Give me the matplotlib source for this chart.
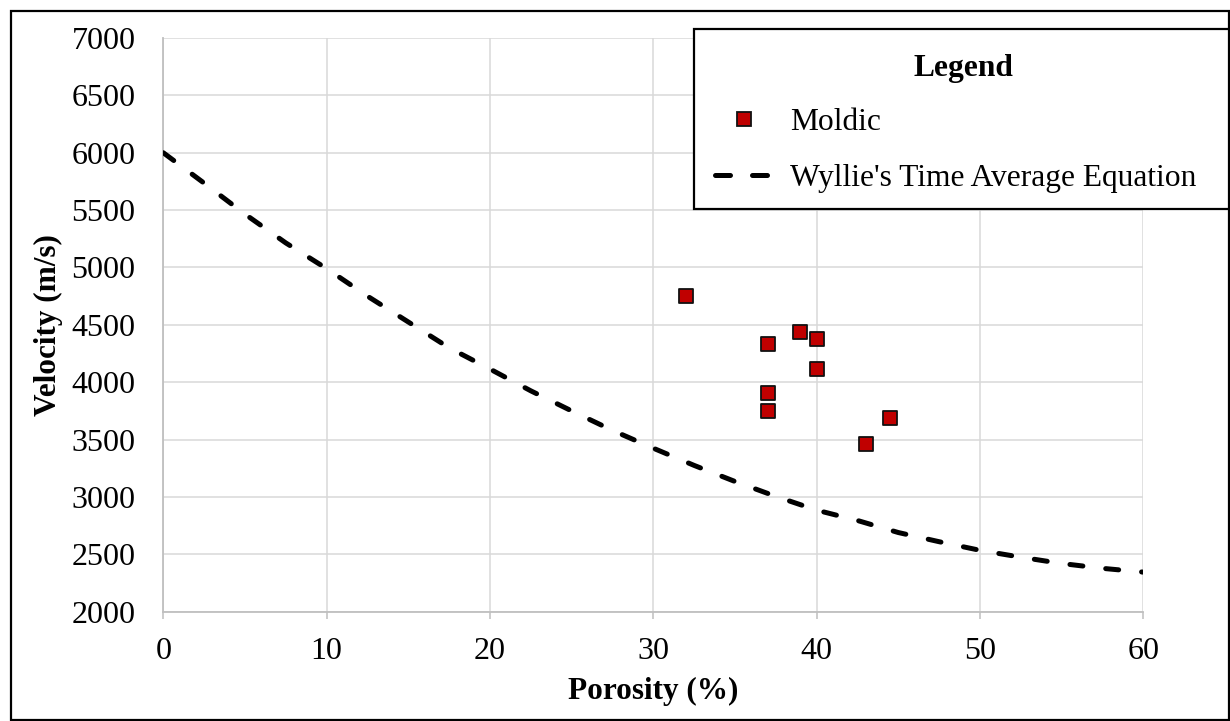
import matplotlib
matplotlib.use("Agg")
import matplotlib.pyplot as plt
from matplotlib.patches import Rectangle
from matplotlib.lines import Line2D

# ---- data ----
moldic_porosity = [32, 37, 39, 40, 40, 37, 37, 44.5, 43]
moldic_velocity = [4755, 4335, 4440, 4375, 4112, 3905, 3752, 3692, 3462]

wyllie_porosity = [0, 2.5, 5, 7.5, 10, 12.5, 15, 17.5, 20, 22.5, 25, 27.5, 30,
                   32.5, 35, 37.5, 40, 42.5, 45, 47.5, 50, 52.5, 55, 57.5, 60]
wyllie_velocity = [6000, 5735, 5465, 5214, 4990, 4750, 4525, 4300, 4115, 3925,
                   3750, 3580, 3425, 3275, 3135, 3005, 2885, 2795, 2690, 2610,
                   2535, 2475, 2420, 2378, 2345]

x_ticks = [0, 10, 20, 30, 40, 50, 60]
y_ticks = [2000, 2500, 3000, 3500, 4000, 4500, 5000, 5500, 6000, 6500, 7000]

plt.rcParams['font.family'] = ['Liberation Serif', 'DejaVu Serif']
W, H = 1230, 721
fig = plt.figure(figsize=(W / 100, H / 100), dpi=100)
ax = fig.add_axes([163.3 / W, 1 - 611.7 / H, (1143.3 - 163.3) / W, (611.7 - 38) / H])

ax.plot(wyllie_porosity, wyllie_velocity, color='black', lw=3.6,
        linestyle=(0, (2.6, 4.6)), dash_capstyle='round', zorder=3)
ax.scatter(moldic_porosity, moldic_velocity, marker='s', s=10.3 ** 2,
           facecolor='#C00000', edgecolor='#111111', linewidth=1.3, zorder=4)

ax.set_xlim(0, 60)
ax.set_ylim(2000, 7000)
ax.set_xticks(x_ticks)
ax.set_yticks(y_ticks)
ax.grid(True, color='#D9D9D9', lw=1.1)
ax.set_axisbelow(True)
for s in ['top', 'right']:
    ax.spines[s].set_visible(False)
for s in ['left', 'bottom']:
    ax.spines[s].set_color('#BFBFBF')
    ax.spines[s].set_linewidth(1.3)
ax.tick_params(axis='x', length=5, width=1.1, color='#BFBFBF', direction='out',
               pad=13, labelsize=23)
ax.tick_params(axis='y', length=0, pad=20, labelsize=23)

ax.set_xlabel('Porosity (%)', fontsize=22.5, fontweight='bold', labelpad=8)
ax.set_ylabel('Velocity (m/s)', fontsize=22.5, fontweight='bold', labelpad=6)

# figure border
fig.patches.append(Rectangle((11 / W, 1 / H), (1228.5 - 11) / W, (709 - 0) / H,
                             transform=fig.transFigure, fill=False,
                             edgecolor='black', lw=1.6, zorder=0))

# legend frame and title
fig.patches.append(Rectangle((694 / W, 1 - 209 / H), (1228.5 - 694) / W, (209 - 29) / H,
                             transform=fig.transFigure, facecolor='white',
                             edgecolor='black', lw=1.6, zorder=5))
fig.text(963 / W, 1 - 76 / H, 'Legend', fontsize=22.7, fontweight='bold',
         ha='center', va='baseline', zorder=6)

handles = [
    Line2D([], [], marker='s', linestyle='none', markersize=10,
           markerfacecolor='#C00000', markeredgecolor='#111111', markeredgewidth=1.3),
    Line2D([], [], color='black', lw=3.6, linestyle=(0, (3.0, 4.4)),
           dash_capstyle='round'),
]
fs = 22.7
fs_px = fs * 100 / 72
leg = fig.legend(handles, ['Moldic', "Wyllie's Time Average Equation"],
                 loc='upper left', bbox_to_anchor=(715 / W, 1 - 107.5 / H),
                 fontsize=fs, frameon=False, borderpad=0, borderaxespad=0,
                 labelspacing=0.86, handlelength=57 / fs_px,
                 handletextpad=18 / fs_px)
leg.set_zorder(7)

fig.savefig('out.png', dpi=100)
